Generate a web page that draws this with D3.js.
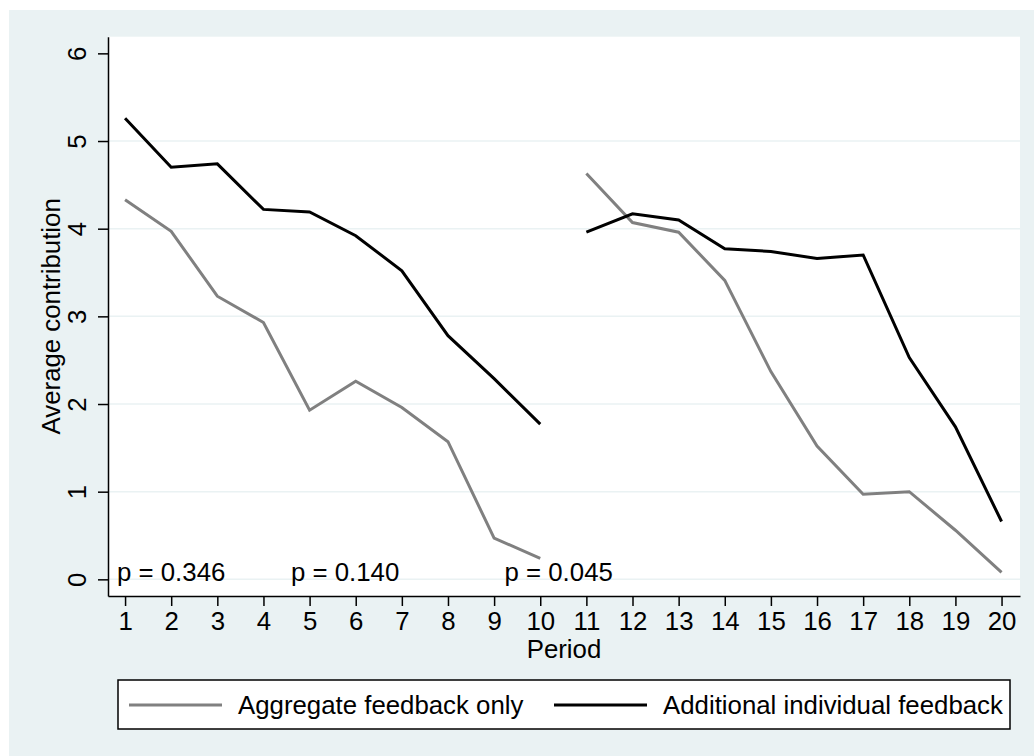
<!DOCTYPE html>
<html>
<head>
<meta charset="utf-8">
<script src="https://cdn.jsdelivr.net/npm/d3@7"></script>
<style>
    body { margin: 0; background: #fff; }
    svg { display: block; font-family: "Liberation Sans", Arial, Helvetica, sans-serif; }
</style>
</head>
<body>
<div id="chart"></div>
<script>
// Data
const periods = d3.range(1, 21);
const aggregateOnly = [4.33, 3.97, 3.23, 2.93, 1.93, 2.26, 1.96, 1.57, 0.47, 0.24,
                       4.63, 4.07, 3.96, 3.41, 2.37, 1.52, 0.97, 1.00, 0.56, 0.08];
const individualFb = [5.26, 4.70, 4.74, 4.22, 4.19, 3.92, 3.52, 2.78, 2.29, 1.77,
                      3.96, 4.17, 4.10, 3.77, 3.74, 3.66, 3.70, 2.53, 1.74, 0.66];
const yTicks = [0, 1, 2, 3, 4, 5, 6];
const gridValues = [0, 1, 2, 3, 4, 5];
const seriesNames = ["Aggregate feedback only", "Additional individual feedback"];
const pLabels = ["p = 0.346", "p = 0.140", "p = 0.045"];
const pPositions = [2, 5.77, 10.4];

const width = 1034, height = 756;
const plot = { left: 108, right: 1020, top: 36.7, bottom: 596 };
const bg = "#eaf2f3";
const fontSize = 25.8;

const svg = d3.select("#chart").append("svg")
    .attr("width", width)
    .attr("height", height);

// Outer background
svg.append("rect")
    .attr("x", 9).attr("y", 10)
    .attr("width", width - 9).attr("height", height - 10)
    .attr("fill", bg);

// Plot region
svg.append("rect")
    .attr("x", plot.left).attr("y", plot.top)
    .attr("width", plot.right - plot.left).attr("height", plot.bottom - plot.top)
    .attr("fill", "#fff");

const x = d3.scaleLinear()
    .domain([0.63, 20.4])
    .range([plot.left, plot.right]);

const y = d3.scaleLinear()
    .domain([-0.19, 6.19])
    .range([plot.bottom, plot.top]);

// Grid
svg.append("g")
    .selectAll("line")
    .data(gridValues)
    .join("line")
    .attr("x1", plot.left).attr("x2", plot.right)
    .attr("y1", d => y(d)).attr("y2", d => y(d))
    .attr("stroke", bg)
    .attr("stroke-width", 1.5);

// Series (two separate phases: periods 1-10 and 11-20)
const rows = periods.map((p, i) => ({ period: p, agg: aggregateOnly[i], ind: individualFb[i] }));
const phases = [rows.filter(d => d.period <= 10), rows.filter(d => d.period > 10)];

const series = [
    { key: "agg", color: "#808080" },
    { key: "ind", color: "#000000" }
];

series.forEach(s => {
    const line = d3.line()
        .x(d => x(d.period))
        .y(d => y(d[s.key]));
    phases.forEach(ph => {
        svg.append("path")
            .datum(ph)
            .attr("fill", "none")
            .attr("stroke", s.color)
            .attr("stroke-width", 3)
            .attr("d", line);
    });
});

// p-values
svg.append("g")
    .selectAll("text")
    .data(pLabels)
    .join("text")
    .attr("x", (d, i) => x(pPositions[i]))
    .attr("y", y(0) + 2)
    .attr("text-anchor", "middle")
    .attr("font-size", fontSize)
    .attr("fill", "#000")
    .text(d => d);

// Y axis
const yAxis = svg.append("g")
    .attr("transform", `translate(${plot.left},0)`)
    .call(d3.axisLeft(y).tickValues(yTicks).tickFormat(d3.format("d")).tickSize(10).tickSizeOuter(0));
yAxis.select(".domain").attr("stroke-width", 1.5);
yAxis.selectAll(".tick line").attr("stroke-width", 1.5);
yAxis.selectAll(".tick text")
    .attr("x", 0).attr("dy", 0)
    .attr("transform", "translate(-22,0) rotate(-90)")
    .attr("text-anchor", "middle")
    .attr("font-size", fontSize)
    .attr("font-family", null)
    .attr("fill", "#000");

// X axis
const xAxis = svg.append("g")
    .attr("transform", `translate(0,${plot.bottom})`)
    .call(d3.axisBottom(x).tickValues(periods).tickFormat(d3.format("d")).tickSize(10).tickSizeOuter(0));
xAxis.select(".domain").attr("stroke-width", 1.5);
xAxis.selectAll(".tick line").attr("stroke-width", 1.5);
xAxis.selectAll(".tick text")
    .attr("y", 34).attr("dy", 0)
    .attr("font-size", fontSize)
    .attr("font-family", null)
    .attr("fill", "#000");

// Axis titles
svg.append("text")
    .attr("x", (plot.left + plot.right) / 2)
    .attr("y", 658)
    .attr("text-anchor", "middle")
    .attr("font-size", fontSize)
    .text("Period");

svg.append("text")
    .attr("transform", `translate(60,${(plot.top + plot.bottom) / 2}) rotate(-90)`)
    .attr("text-anchor", "middle")
    .attr("font-size", fontSize)
    .text("Average contribution");

// Legend
const legend = svg.append("g");
legend.append("rect")
    .attr("x", 118).attr("y", 680)
    .attr("width", 892).attr("height", 49)
    .attr("fill", "#fff")
    .attr("stroke", "#000")
    .attr("stroke-width", 1.5);

const legendItems = [
    { name: seriesNames[0], color: series[0].color, x0: 129 },
    { name: seriesNames[1], color: series[1].color, x0: 554 }
];
legendItems.forEach(it => {
    legend.append("line")
        .attr("x1", it.x0).attr("x2", it.x0 + 93)
        .attr("y1", 705).attr("y2", 705)
        .attr("stroke", it.color)
        .attr("stroke-width", 3);
    legend.append("text")
        .attr("x", it.x0 + 109)
        .attr("y", 714)
        .attr("font-size", fontSize)
        .text(it.name);
});
</script>
</body>
</html>
